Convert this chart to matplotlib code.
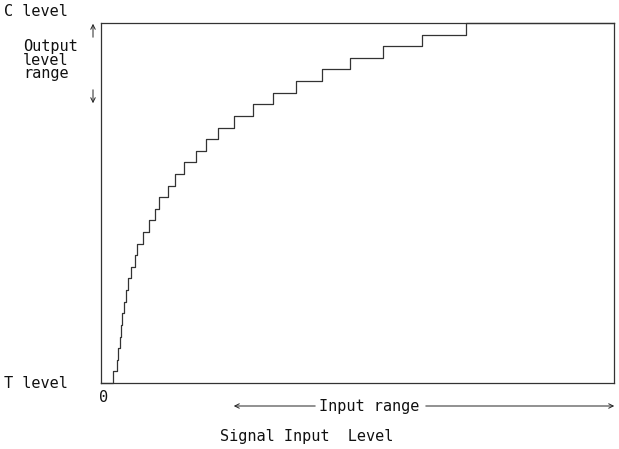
import matplotlib
matplotlib.use("Agg")
import matplotlib.pyplot as plt
from matplotlib.patches import FancyArrowPatch

# Input thresholds (percent of input axis) at which the output level steps up
step_inputs = [2.3, 3.1, 3.3, 3.7, 3.9, 4.1, 4.5, 4.9, 5.3, 5.8, 6.6, 7.0, 8.2, 9.4,
               10.5, 11.3, 13.1, 14.4, 16.2, 18.5, 20.5, 22.8, 25.9, 29.6, 33.5,
               38.0, 43.1, 48.5, 55.0, 62.6, 71.2]
step_levels = list(range(1, len(step_inputs) + 1))
x_max = 100.0
n_levels = len(step_levels)

W, H = 619, 449
fig = plt.figure(figsize=(W / 100, H / 100), dpi=100)

def fx(px):
    return px / W

def fy(py):
    return 1 - py / H

L, R, T, B = 101, 614, 23, 383
ax = fig.add_axes([fx(L), fy(B), fx(R) - fx(L), fy(T) - fy(B)])
xs = [0] + step_inputs + [x_max]
ys = [0] + step_levels + [step_levels[-1]]
ax.step(xs, ys, where="post", color="#333333", lw=0.9, clip_on=False)
ax.set_xlim(0, x_max)
ax.set_ylim(0, n_levels)
ax.set_xticks([])
ax.set_yticks([])
for s in ax.spines.values():
    s.set_linewidth(0.9)
    s.set_color("#333333")

tk = dict(fontsize=11, family="DejaVu Sans Mono", color="#111111")
fig.text(fx(4), fy(12), "C level", va="center", ha="left", **tk)
fig.text(fx(23), fy(60), "Output\nlevel\nrange", va="center", ha="left",
         linespacing=0.9, **tk)
fig.text(fx(4), fy(383), "T level", va="center", ha="left", **tk)
fig.text(fx(104), fy(398), "0", va="center", ha="center", **tk)
fig.text(fx(369), fy(406), "Input range", va="center", ha="center", **tk)
fig.text(fx(307), fy(437), "Signal Input  Level", va="center", ha="center", **tk)

arrow_kw = dict(arrowstyle="->", lw=0.7, color="#222222", mutation_scale=8,
                transform=fig.transFigure)
fig.add_artist(FancyArrowPatch((fx(93), fy(40)), (fx(93), fy(21)), **arrow_kw))
fig.add_artist(FancyArrowPatch((fx(93), fy(87)), (fx(93), fy(106)), **arrow_kw))
fig.add_artist(FancyArrowPatch((fx(318), fy(406)), (fx(231), fy(406)), **arrow_kw))
fig.add_artist(FancyArrowPatch((fx(423), fy(406)), (fx(617), fy(406)), **arrow_kw))

fig.savefig("out.png", dpi=100)
